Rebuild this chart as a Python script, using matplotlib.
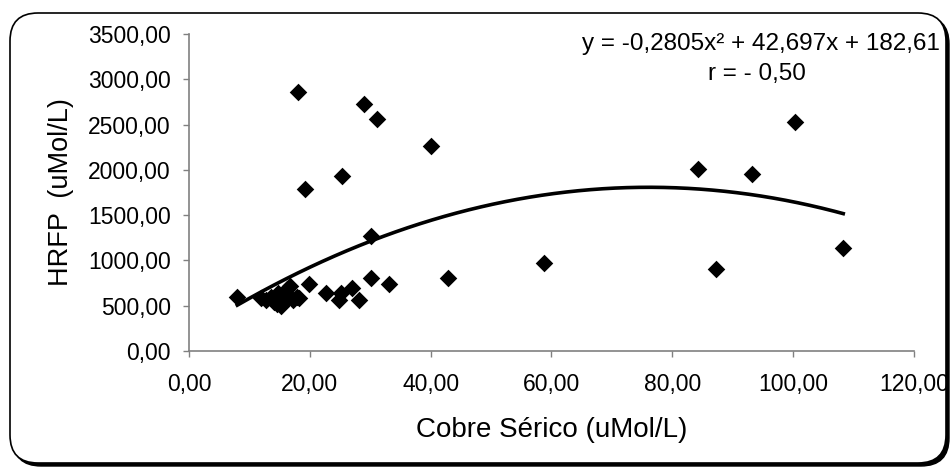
import matplotlib

matplotlib.use("Agg")
import matplotlib.pyplot as plt
import numpy as np
from matplotlib.patches import FancyBboxPatch
from matplotlib.transforms import IdentityTransform

plt.rcParams["font.family"] = ["Liberation Sans", "DejaVu Sans"]

# serum copper vs HRFP
cobre = [8.0, 12.0, 12.8, 13.5, 14.0, 14.5, 14.8, 15.0, 15.3, 15.8, 16.0, 16.3,
         16.7, 17.2, 17.8, 18.2, 18.0, 19.2, 19.8, 22.7, 24.9, 25.2, 25.3, 27.0,
         28.2, 28.9, 30.2, 30.2, 31.1, 33.1, 40.0, 42.8, 58.7, 84.3, 87.3, 93.2,
         100.3, 108.3]
hrfp = [595, 580, 560, 600, 540, 520, 640, 560, 500, 540, 620, 680,
        720, 560, 600, 580, 2862, 1788, 736, 636, 563, 644, 1932, 692,
        563, 2723, 809, 1269, 2556, 735, 2263, 809, 975, 2005, 902, 1954,
        2531, 1141]

# polynomial trend line coefficients, as printed on the chart
coef = [-0.2805, 42.697, 182.61]
eq_text = "y = -0,2805x² + 42,697x + 182,61"
r_text = "r = - 0,50"

x_ticks = [0, 20, 40, 60, 80, 100, 120]
y_ticks = [0, 500, 1000, 1500, 2000, 2500, 3000, 3500]


def br(v):
    return f"{v:.2f}".replace(".", ",")


fig = plt.figure(figsize=(9.53, 4.70), dpi=100)

# rounded chart frame with a small drop shadow
shadow = FancyBboxPatch((13, 4), 936, 450, boxstyle="round,pad=0,rounding_size=28",
                        transform=IdentityTransform(), facecolor="black",
                        edgecolor="black", lw=1, zorder=0)
frame = FancyBboxPatch((10, 7), 936, 450, boxstyle="round,pad=0,rounding_size=28",
                       transform=IdentityTransform(), facecolor="white",
                       edgecolor="black", lw=1.2, zorder=1)
fig.patches.extend([shadow, frame])

ax = fig.add_axes([0.1983, 0.2532, 0.7607, 0.6745])
ax.set_facecolor("none")
ax.set_zorder(2)

ax.scatter(cobre, hrfp, marker="D", s=80, color="black", lw=0, zorder=3)

xs = np.linspace(min(cobre), max(cobre), 200)
ax.plot(xs, np.polyval(coef, xs), color="black", lw=2.6, zorder=4)

ax.set_xlim(0, 120)
ax.set_ylim(0, 3500)
ax.set_xticks(x_ticks)
ax.set_yticks(y_ticks)
ax.set_xticklabels([br(v) for v in x_ticks])
ax.set_yticklabels([br(v) for v in y_ticks])

for side in ("top", "right"):
    ax.spines[side].set_visible(False)
for side in ("left", "bottom"):
    ax.spines[side].set_color("#808080")
    ax.spines[side].set_linewidth(1.2)
ax.tick_params(direction="out", length=4, width=1, color="#808080",
               labelsize=16.5, pad=9)
ax.tick_params(axis="x", pad=12)

ax.set_xlabel("Cobre Sérico (uMol/L)", fontsize=20, labelpad=15)
ax.set_ylabel("HRFP  (uMol/L)", fontsize=19.5, labelpad=10)

fig.text(0.986, 0.894, eq_text, ha="right", va="baseline", fontsize=17.5, zorder=5)
fig.text(0.794, 0.830, r_text, ha="center", va="baseline", fontsize=17.5, zorder=5)

fig.savefig("out.png", dpi=100)
